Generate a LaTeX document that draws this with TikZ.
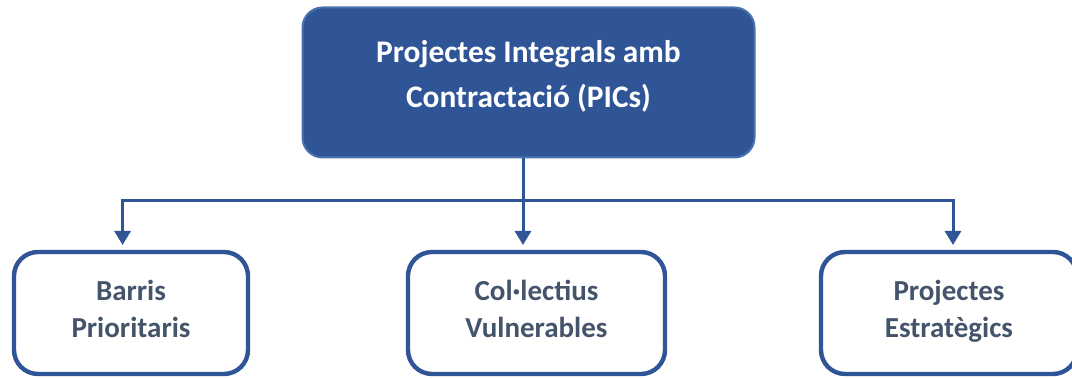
\documentclass[tikz,border=0pt]{standalone}
\usepackage{fontspec}
\setmainfont{Carlito}
\usepackage{tikz}
\usetikzlibrary{arrows.meta}
\definecolor{PicBlue}{HTML}{2F5597}
\definecolor{PicEdge}{HTML}{4A72AE}
\definecolor{PicText}{HTML}{44546A}

\begin{document}
\begin{tikzpicture}[x=1pt, y=1pt,
  topbox/.style={draw=PicEdge, line width=1pt, fill=PicBlue, rounded corners=10pt, text=white, font=\fontsize{15.7}{22.5}\selectfont\bfseries, align=center, inner sep=0pt, text depth=9pt},
  subbox/.style={draw=PicBlue, line width=2.2pt, fill=white, rounded corners=12pt, text=PicText, font=\fontsize{14.5}{18.5}\selectfont\bfseries, align=center, inner sep=0pt, minimum height=61pt, text depth=4pt},
  link/.style={draw=PicBlue, line width=1.5pt},
  tip/.style={-{Triangle[width=8pt,length=7pt]}, shorten >=2.4pt}]
\useasboundingbox (0,0) rectangle (536,189);
\node[topbox, minimum width=226pt, minimum height=75pt] (pic) at (264.25,147.75) {Projectes Integrals amb\\Contractació (PICs)};
\node[subbox, minimum width=117pt] (barris) at (65.5,32.5) {Barris\\Prioritaris};
\node[subbox, minimum width=128.5pt] (collectius) at (268.25,32.5) {Col·lectius\\Vulnerables};
\node[subbox, minimum width=128pt] (estrategics) at (474.5,32.5) {Projectes\\Estratègics};
\coordinate (fork) at (261.5,88.5);
\draw[link, tip] (pic.south -| fork) -- (fork |- collectius.north);
\draw[link, tip] (fork) -| ([xshift=-4.2pt]barris.north);
\draw[link, tip] (fork) -| ([xshift=2pt]estrategics.north);
\end{tikzpicture}
\end{document}
